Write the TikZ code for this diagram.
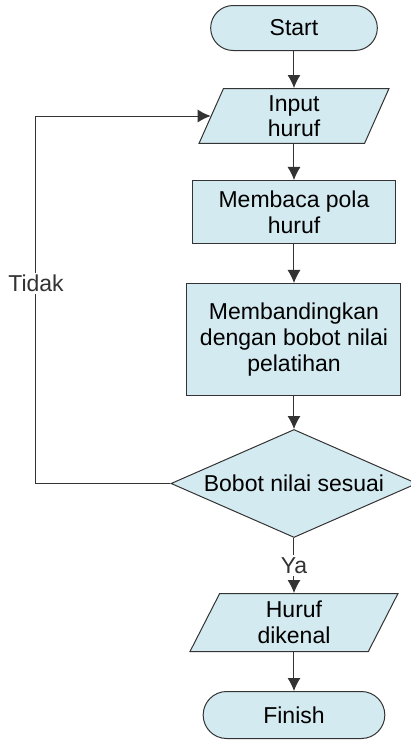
\documentclass[tikz,border=0pt]{standalone}
\usepackage{fontspec}
\setmainfont{Liberation Sans}
\usepackage{tikz}
\usetikzlibrary{positioning}
\usetikzlibrary{arrows.meta,calc,shapes.geometric,shapes.misc}
\definecolor{boxfill}{HTML}{D3EAF0}
\definecolor{linegray}{HTML}{333333}
\tikzset{line/.style={draw, linegray, line width=0.5pt, -{Latex[length=6.5pt,width=6.5pt]}}}
\begin{document}
\begin{tikzpicture}[font=\fontsize{11.5}{12.8}\selectfont]
\tikzstyle{base} = [draw=linegray, line width=0.5pt, fill=boxfill, align=center]
\tikzstyle{term} = [base, rounded rectangle, minimum width=90pt, minimum height=22.5pt]
\tikzstyle{io} = [base, trapezium, trapezium left angle=66, trapezium right angle=114, trapezium stretches body, minimum height=27pt, minimum width=95pt, inner xsep=0pt]
\tikzstyle{block} = [base, rectangle, minimum width=101.5pt, minimum height=31.5pt]
\tikzstyle{decision} = [base, diamond, aspect=2.2, inner sep=0pt, minimum width=123pt, minimum height=54pt]
\tikzstyle{label} = [fill=white, inner sep=1pt]

\useasboundingbox (-147pt,14pt) rectangle (58.5pt,-356pt);

% blocks
    \node [term] (start) {Start};
    \node [io, below=18.5pt of start] (input) {Input\\huruf};
    \node [block, below=18pt of input] (read) {Membaca pola\\huruf};
    \node [block, below=19.5pt of read, minimum width=107pt, minimum height=56pt] (compare) {Membandingkan\\dengan bobot nilai\\pelatihan};
    \node [decision, below=16.5pt of compare] (decide) {Bobot nilai sesuai};
    \node [io, below=27.5pt of decide, trapezium left angle=62, trapezium right angle=118, minimum height=29pt, minimum width=104pt] (known) {Huruf\\dikenal};
    \node [term, below=19.5pt of known, minimum width=97.5pt, minimum height=23.5pt] (finish) {Finish};
    \coordinate (back) at (-129pt,0);
% arrows
    \path [line] (start.south) -- (input.north);
    \path [line] (input.south) -- (read.north);
    \path [line] (read.south) -- (compare.north);
    \path [line] (compare.south) -- (decide.north);
    \path [line] (decide.west) -- (back|-decide.west) -- node[label, pos=0.545]{Tidak} (back|-input.west) -- (input.west);
    \path [line] (decide.south) -- node[label]{Ya} (known.north);
    \path [line] (known.south) -- (finish.north);
\end{tikzpicture}
\end{document}
